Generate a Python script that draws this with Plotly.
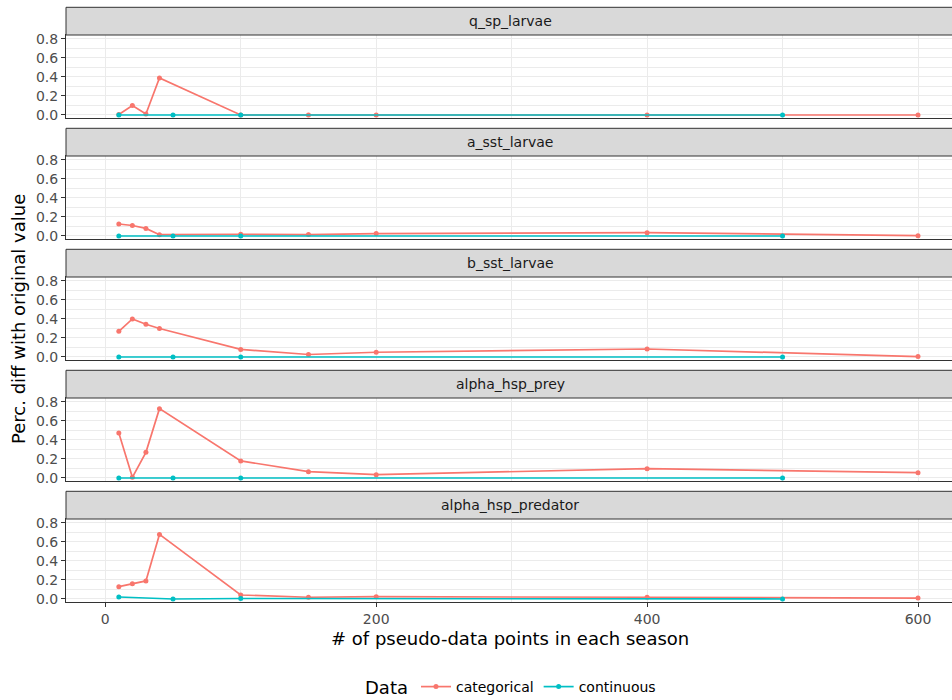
import plotly.graph_objects as go

# ---- data -------------------------------------------------------------
params = ["q_sp_larvae", "a_sst_larvae", "b_sst_larvae",
          "alpha_hsp_prey", "alpha_hsp_predator"]

x_categorical = [10, 20, 30, 40, 100, 150, 200, 400, 600]
x_continuous = [10, 50, 100, 500]

categorical = {
    "q_sp_larvae":        [0.005, 0.10, 0.01, 0.39, 0.0, 0.0, 0.0, 0.0, 0.0],
    "a_sst_larvae":       [0.126, 0.11, 0.08, 0.014, 0.018, 0.015, 0.025, 0.035, 0.003],
    "b_sst_larvae":       [0.27, 0.40, 0.344, 0.30, 0.08, 0.026, 0.05, 0.084, 0.004],
    "alpha_hsp_prey":     [0.474, 0.007, 0.27, 0.73, 0.18, 0.066, 0.035, 0.098, 0.056],
    "alpha_hsp_predator": [0.13, 0.16, 0.19, 0.68, 0.042, 0.018, 0.024, 0.018, 0.01],
}
continuous = {
    "q_sp_larvae":        [0.0, 0.0, 0.0, 0.0],
    "a_sst_larvae":       [0.0, 0.0, 0.0, 0.0],
    "b_sst_larvae":       [0.0, 0.0, 0.0, 0.0],
    "alpha_hsp_prey":     [0.0, 0.0, 0.0, 0.0],
    "alpha_hsp_predator": [0.021, 0.0, 0.005, 0.0],
}

x_ticks = [0, 200, 400, 600]
y_ticks = [0.0, 0.2, 0.4, 0.6, 0.8]

# ---- styling ----------------------------------------------------------
W, H = 952, 700
FONT = "DejaVu Sans"
COL_CAT = "#F8766D"
COL_CONT = "#00BFC4"
GRID = "#EBEBEB"
BORDER = "#333333"
STRIP = "#D9D9D9"

PANEL_LEFT = 66
PANEL_TOP0 = 35
PANEL_STEP = 121
PANEL_H = 83.3
STRIP_H = 27.7

x_range = [-29.0, 625.1]
y_range = [-0.035, 0.842]


def py(px):
    return 1 - px / H


def pxx(px):
    return px / W


fig = go.Figure()
layout = dict(
    width=W, height=H,
    margin=dict(l=0, r=0, t=0, b=0, autoexpand=False),
    paper_bgcolor="white", plot_bgcolor="white",
    font=dict(family=FONT, color="#1A1A1A"),
    showlegend=True,
)
shapes = []
annotations = []

for i, name in enumerate(params):
    k = "" if i == 0 else str(i + 1)
    top = PANEL_TOP0 + PANEL_STEP * i
    bottom = top + PANEL_H
    last = i == len(params) - 1

    layout["xaxis" + k] = dict(
        domain=[pxx(PANEL_LEFT), 1], anchor="y" + k, range=x_range,
        tickvals=x_ticks, showticklabels=last,
        ticks="outside" if last else "", ticklen=4, tickcolor=BORDER,
        tickfont=dict(family=FONT, size=14, color="#4D4D4D"),
        showgrid=True, gridcolor=GRID, gridwidth=1.3,
        minor=dict(dtick=100, tick0=0, showgrid=True, gridcolor=GRID,
                   gridwidth=0.7, ticks=""),
        showline=True, linecolor=BORDER, linewidth=1, mirror=True,
        zeroline=False, fixedrange=True, automargin=False,
    )
    layout["yaxis" + k] = dict(
        domain=[py(bottom), py(top)], anchor="x" + k, range=y_range,
        tickvals=y_ticks, ticktext=[f"{v:.1f}" for v in y_ticks],
        ticks="outside", ticklen=4, tickcolor=BORDER,
        tickfont=dict(family=FONT, size=14, color="#4D4D4D"),
        showgrid=True, gridcolor=GRID, gridwidth=1.3,
        minor=dict(dtick=0.1, tick0=0, showgrid=True, gridcolor=GRID,
                   gridwidth=0.7, ticks=""),
        showline=True, linecolor=BORDER, linewidth=1,
        zeroline=False, fixedrange=True, automargin=False,
    )

    fig.add_trace(go.Scatter(
        x=x_categorical, y=categorical[name], mode="lines+markers",
        name="categorical", legendgroup="categorical", showlegend=(i == 0),
        line=dict(color=COL_CAT, width=1.7), marker=dict(color=COL_CAT, size=5),
        xaxis="x" + k, yaxis="y" + k,
    ))
    fig.add_trace(go.Scatter(
        x=x_continuous, y=continuous[name], mode="lines+markers",
        name="continuous", legendgroup="continuous", showlegend=(i == 0),
        line=dict(color=COL_CONT, width=1.7), marker=dict(color=COL_CONT, size=5),
        xaxis="x" + k, yaxis="y" + k,
    ))

    # facet strip
    shapes.append(dict(
        type="rect", xref="paper", yref="paper",
        x0=pxx(PANEL_LEFT), x1=1.01, y0=py(top), y1=py(top - STRIP_H),
        fillcolor=STRIP, line=dict(color=BORDER, width=1), layer="above",
    ))
    annotations.append(dict(
        text=name, xref="paper", yref="paper",
        x=pxx(510), y=py(top - STRIP_H / 2), xanchor="center", yanchor="middle",
        showarrow=False, font=dict(family=FONT, size=14, color="#1A1A1A"),
    ))

# axis titles
annotations.append(dict(
    text="# of pseudo-data points in each season", xref="paper", yref="paper",
    x=pxx(510), y=py(638), xanchor="center", yanchor="middle", showarrow=False,
    font=dict(family=FONT, size=18, color="black"),
))
annotations.append(dict(
    text="Perc. diff with original value", xref="paper", yref="paper",
    x=pxx(18), y=py(319), xanchor="center", yanchor="middle", showarrow=False,
    textangle=-90, font=dict(family=FONT, size=18, color="black"),
))

layout["shapes"] = shapes
layout["annotations"] = annotations
layout["legend"] = dict(
    orientation="h", x=pxx(512), xanchor="center", y=py(688), yanchor="middle",
    title=dict(text="Data", font=dict(family=FONT, size=18, color="black"), side="left"),
    font=dict(family=FONT, size=14, color="black"),
    bgcolor="rgba(0,0,0,0)", itemwidth=30,
)

fig.update_layout(**layout)
fig.write_html("out.html")
